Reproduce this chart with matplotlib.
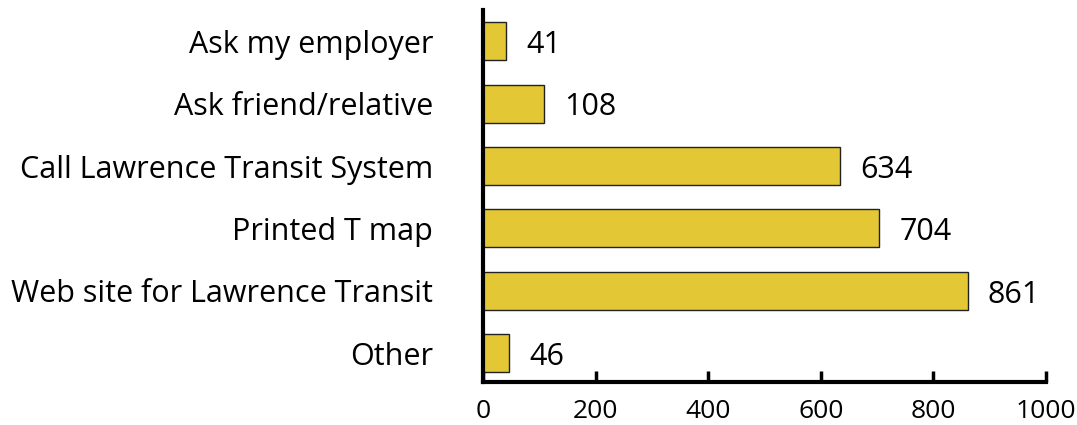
import matplotlib.pyplot as plt

categories = ['Ask my employer', 'Ask friend/relative', 'Call Lawrence Transit System',
              'Printed T map', 'Web site for Lawrence Transit', 'Other']
counts = [41, 108, 634, 704, 861, 46]
x_ticks = [0, 200, 400, 600, 800, 1000]

plt.rcParams['font.family'] = ['Open Sans', 'DejaVu Sans']

fig = plt.figure(figsize=(10.77, 4.25), dpi=100)
ax = fig.add_axes([0.4485, 0.1012, 0.5227, 0.8753])

pos = range(len(categories))
ax.barh(pos, counts, height=0.61, color='#E3C734', edgecolor='#222222', linewidth=1)

for y, v in zip(pos, counts):
    ax.text(v + 36, y + 0.06, str(v), va='center', ha='left', fontsize=22)

ax.set_xlim(0, 1000)
ax.set_ylim(5.46, -0.5)
ax.set_yticks(list(pos))
ax.set_yticklabels(categories, fontsize=22)
ax.tick_params(axis='y', length=0, pad=36)
ax.set_xticks(x_ticks)
ax.set_xticklabels([str(t) for t in x_ticks], fontsize=19)
ax.tick_params(axis='x', direction='in', length=8, width=2.5, pad=12)

ax.spines['top'].set_visible(False)
ax.spines['right'].set_visible(False)
ax.spines['left'].set_linewidth(3)
ax.spines['bottom'].set_linewidth(3)

fig.savefig('out.png', dpi=100)
